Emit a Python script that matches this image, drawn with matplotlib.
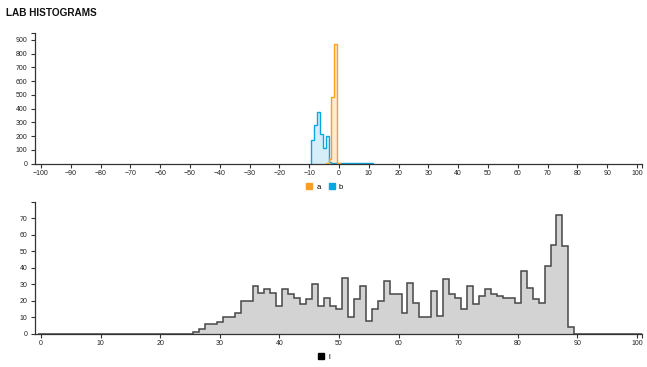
import numpy as np
import matplotlib
matplotlib.use('Agg')
import matplotlib.pyplot as plt
from matplotlib.patches import Patch

plt.rcParams['font.family'] = ['Liberation Sans', 'DejaVu Sans']

# ---- data (bin centres, counts) ----
a_centers = [-4, -3, -2, -1, 0]
a_counts = [5, 30, 485, 870, 3]

b_centers = [-9, -8, -7, -6, -5, -4, -3, -2, -1, 0, 1, 2, 3, 4, 5, 6, 7, 8, 9, 10, 11]
b_counts = [170, 282, 376, 212, 116, 197, 8, 5, 4, 3, 3, 2, 2, 2, 1, 1, 1, 1, 1, 1, 1]

l_centers = list(range(26, 90))
l_counts = [1, 3, 6, 6, 7, 10, 10, 13, 20, 20,
            29, 25, 27, 25, 17, 27, 24, 22, 18, 21,
            30, 17, 22, 17, 15, 34, 10, 21, 29, 8,
            15, 20, 32, 24, 24, 13, 31, 19, 10, 10,
            26, 11, 33, 24, 22, 15, 29, 18, 23, 27,
            24, 23, 22, 22, 19, 38, 28, 21, 19, 41,
            54, 72, 53, 4]

top_xticks = list(range(-100, 101, 10))
top_yticks = list(range(0, 901, 100))
bot_xticks = list(range(0, 101, 10))
bot_yticks = list(range(0, 71, 10))

orange = '#ff9d1e'
blue = '#0aa6df'
W, H = 647, 367
axis_col = '#333333'


def px_axes(fig, left, top, right, bottom):
    return fig.add_axes([left / W, 1 - bottom / H, (right - left) / W, (bottom - top) / H])


def style_axis(ax, xlim, ylim, xticks, yticks):
    ax.set_xlim(*xlim)
    ax.set_ylim(*ylim)
    for s in ['top', 'right']:
        ax.spines[s].set_visible(False)
    for s in ['left', 'bottom']:
        ax.spines[s].set_color(axis_col)
        ax.spines[s].set_linewidth(0.9)
    ax.set_xticks(xticks)
    ax.set_yticks(yticks)
    # outer ticks at the ends of the domain lines
    ax.set_xticks([xlim[1]], minor=True)
    ax.set_yticks([ylim[1]], minor=True)
    ax.tick_params(which='both', length=3, width=0.8, color=axis_col,
                   labelsize=5, labelcolor='#222222', pad=1.5)
    ax.tick_params(axis='y', which='both', pad=2.5)
    ax.patch.set_alpha(0)


def steps(centers, counts):
    c = np.asarray(centers, dtype=float)
    edges = np.append(c - 0.5, c[-1] + 0.5)
    return np.asarray(counts, dtype=float), edges


fig = plt.figure(figsize=(6.47, 3.67), dpi=100)

# ---- top: a / b ----
ax1 = px_axes(fig, 35, 33, 642, 163.5)
v, e = steps(b_centers, b_counts)
ax1.stairs(v, e, fill=True, color='#d6eef8', zorder=1)
ax1.stairs(v, e, color=blue, lw=1.0, zorder=2)
v, e = steps(a_centers, a_counts)
ax1.stairs(v, e, fill=True, color='#fdebd6', zorder=1)
ax1.stairs(v, e, color=orange, lw=1.0, zorder=3)
style_axis(ax1, (-102.0, 101.7), (0, 951), top_xticks, top_yticks)

fig.legend([Patch(color=orange), Patch(color=blue)], ['a', 'b'],
           loc='center', bbox_to_anchor=(324.7 / W, 1 - 187 / H), ncol=2,
           frameon=False, fontsize=5.5, handlelength=0.8, handleheight=0.8,
           handletextpad=0.5, columnspacing=1.1, borderpad=0, borderaxespad=0)

# ---- bottom: l ----
ax2 = px_axes(fig, 35, 202.3, 642, 334)
v = np.zeros(len(bot_xticks) * 10 + 1)
idx = np.asarray(l_centers)
v[idx] = l_counts
edges = np.arange(-0.5, len(v), 1.0)
ax2.stairs(v, edges, fill=True, color='#d3d3d3', zorder=1)
ax2.stairs(v, edges, color='#474747', lw=1.1, zorder=2)
style_axis(ax2, (-1.0, 100.85), (0, 79.7), bot_xticks, bot_yticks)

fig.legend([Patch(color='black')], ['l'],
           loc='center', bbox_to_anchor=(324 / W, 1 - 357 / H), ncol=1,
           frameon=False, fontsize=5.5, handlelength=0.8, handleheight=0.8,
           handletextpad=0.5, borderpad=0, borderaxespad=0)

fig.text(6 / W, 1 - 12.5 / H, 'LAB HISTOGRAMS', fontsize=7.2, fontweight='bold',
         va='center', ha='left', color='#111111')

fig.savefig('out.png', dpi=100)
